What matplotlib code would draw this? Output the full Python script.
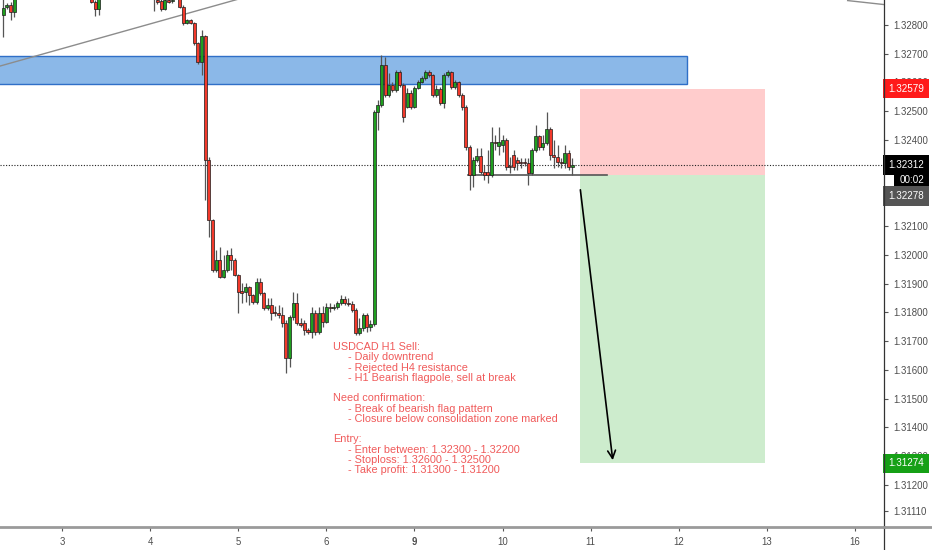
import matplotlib
matplotlib.use("Agg")
import matplotlib.pyplot as plt
from matplotlib.patches import Rectangle
from matplotlib.lines import Line2D

# USDCAD H1 candles, x = hours from day "3" 00:00 (weekend skipped)
hours = [-16, -15, -14, -13, 8, 9, 10, 25, 26, 27, 28, 29, 30] + list(range(32, 140))

opens = [1.32835, 1.32863, 1.32870, 1.32845, 1.32904, 1.32880, 1.32856,
         1.32897, 1.32887, 1.32884, 1.32856, 1.32887, 1.32884,
         1.32894, 1.32863, 1.32807, 1.32817, 1.32807, 1.32737, 1.32671, 1.32762,
         1.32330, 1.32121, 1.31947, 1.31982, 1.31923, 1.31947, 1.32000, 1.31982,
         1.31930, 1.31874, 1.31871, 1.31888, 1.31860, 1.31836, 1.31906, 1.31867,
         1.31815, 1.31826, 1.31801, 1.31798, 1.31791, 1.31763, 1.31641, 1.31784,
         1.31833, 1.31763, 1.31763, 1.31739, 1.31732, 1.31798, 1.31732, 1.31798,
         1.31766, 1.31819, 1.31815, 1.31819, 1.31833, 1.31846, 1.31833, 1.31829,
         1.31808, 1.31728, 1.31746, 1.31791, 1.31749, 1.31759, 1.32497, 1.32522,
         1.32661, 1.32556, 1.32591, 1.32574, 1.32636, 1.32591, 1.32515, 1.32563,
         1.32515, 1.32581, 1.32602, 1.32616, 1.32636, 1.32626, 1.32556, 1.32577,
         1.32529, 1.32626, 1.32636, 1.32584, 1.32602, 1.32556, 1.32515, 1.32375,
         1.32278, 1.32330, 1.32344, 1.32288, 1.32288, 1.32278, 1.32393, 1.32379,
         1.32382, 1.32400, 1.32309, 1.32348, 1.32330, 1.32323, 1.32323, 1.32320,
         1.32285, 1.32365, 1.32414, 1.32375, 1.32389, 1.32438, 1.32348, 1.32341,
         1.32323, 1.32320, 1.32355, 1.32306]
highs = [1.32904, 1.32877, 1.32880, 1.32915, 1.32922, 1.32887, 1.32915,
         1.32915, 1.32897, 1.32890, 1.32897, 1.32897, 1.32894,
         1.32901, 1.32870, 1.32821, 1.32821, 1.32810, 1.32741, 1.32783, 1.32765,
         1.32341, 1.32125, 1.32017, 1.32027, 1.32000, 1.32017, 1.32024, 1.31989,
         1.31933, 1.31902, 1.31902, 1.31892, 1.31864, 1.31920, 1.31920, 1.31871,
         1.31850, 1.31850, 1.31822, 1.31826, 1.31819, 1.31773, 1.31791, 1.31871,
         1.31867, 1.31780, 1.31773, 1.31746, 1.31819, 1.31808, 1.31819, 1.31822,
         1.31833, 1.31833, 1.31829, 1.31840, 1.31860, 1.31857, 1.31850, 1.31840,
         1.31815, 1.31780, 1.31798, 1.31798, 1.31773, 1.32504, 1.32539, 1.32696,
         1.32689, 1.32633, 1.32602, 1.32643, 1.32643, 1.32598, 1.32581, 1.32574,
         1.32588, 1.32609, 1.32622, 1.32643, 1.32643, 1.32629, 1.32591, 1.32584,
         1.32633, 1.32643, 1.32640, 1.32609, 1.32605, 1.32563, 1.32522, 1.32382,
         1.32341, 1.32372, 1.32372, 1.32313, 1.32365, 1.32445, 1.32417, 1.32445,
         1.32417, 1.32407, 1.32341, 1.32365, 1.32341, 1.32337, 1.32337, 1.32337,
         1.32372, 1.32452, 1.32417, 1.32417, 1.32497, 1.32445, 1.32400, 1.32382,
         1.32337, 1.32382, 1.32365, 1.32337]
lows = [1.32758, 1.32856, 1.32817, 1.32828, 1.32877, 1.32831, 1.32835,
        1.32849, 1.32873, 1.32849, 1.32852, 1.32877, 1.32877,
        1.32859, 1.32800, 1.32803, 1.32803, 1.32730, 1.32664, 1.32626, 1.32191,
        1.32062, 1.31940, 1.31940, 1.31920, 1.31920, 1.31940, 1.31947, 1.31927,
        1.31798, 1.31833, 1.31836, 1.31826, 1.31829, 1.31829, 1.31860, 1.31808,
        1.31808, 1.31773, 1.31787, 1.31780, 1.31749, 1.31589, 1.31610, 1.31773,
        1.31756, 1.31749, 1.31721, 1.31725, 1.31711, 1.31721, 1.31725, 1.31749,
        1.31763, 1.31801, 1.31808, 1.31812, 1.31826, 1.31826, 1.31822, 1.31801,
        1.31721, 1.31721, 1.31735, 1.31732, 1.31735, 1.31753, 1.32435, 1.32515,
        1.32549, 1.32549, 1.32567, 1.32567, 1.32584, 1.32462, 1.32511, 1.32508,
        1.32511, 1.32577, 1.32598, 1.32609, 1.32619, 1.32549, 1.32549, 1.32522,
        1.32511, 1.32619, 1.32577, 1.32577, 1.32549, 1.32504, 1.32365, 1.32226,
        1.32236, 1.32323, 1.32281, 1.32261, 1.32250, 1.32271, 1.32365, 1.32348,
        1.32358, 1.32295, 1.32285, 1.32295, 1.32295, 1.32302, 1.32309, 1.32243,
        1.32278, 1.32358, 1.32365, 1.32365, 1.32382, 1.32330, 1.32302, 1.32306,
        1.32302, 1.32302, 1.32295, 1.32278]
closes = [1.32859, 1.32870, 1.32845, 1.32897, 1.32880, 1.32856, 1.32897,
          1.32890, 1.32880, 1.32856, 1.32887, 1.32880, 1.32887,
          1.32863, 1.32807, 1.32817, 1.32807, 1.32737, 1.32671, 1.32762, 1.32330,
          1.32121, 1.31947, 1.31982, 1.31923, 1.31947, 1.32000, 1.31982, 1.31930,
          1.31871, 1.31867, 1.31888, 1.31860, 1.31836, 1.31906, 1.31867, 1.31815,
          1.31826, 1.31798, 1.31798, 1.31791, 1.31763, 1.31641, 1.31784, 1.31833,
          1.31763, 1.31756, 1.31739, 1.31732, 1.31798, 1.31732, 1.31798, 1.31766,
          1.31819, 1.31815, 1.31819, 1.31833, 1.31846, 1.31833, 1.31829, 1.31808,
          1.31728, 1.31746, 1.31791, 1.31749, 1.31759, 1.32497, 1.32522, 1.32661,
          1.32556, 1.32591, 1.32574, 1.32636, 1.32591, 1.32480, 1.32563, 1.32515,
          1.32581, 1.32602, 1.32616, 1.32636, 1.32626, 1.32556, 1.32577, 1.32529,
          1.32626, 1.32636, 1.32584, 1.32602, 1.32556, 1.32515, 1.32375, 1.32278,
          1.32330, 1.32344, 1.32288, 1.32278, 1.32278, 1.32393, 1.32389, 1.32393,
          1.32400, 1.32306, 1.32306, 1.32306, 1.32320, 1.32320, 1.32320, 1.32285,
          1.32365, 1.32414, 1.32375, 1.32389, 1.32438, 1.32348, 1.32341, 1.32323,
          1.32320, 1.32355, 1.32306, 1.32312]

day_ticks = [0, 24, 48, 72, 96, 120, 144, 168, 192, 216]
day_labels = ['3', '4', '5', '6', '9', '10', '11', '12', '13', '16']
# 1.32300 and 1.32200 sit under the price tags, so they are left out
price_ticks = [1.328, 1.327, 1.326, 1.325, 1.324, 1.321, 1.320,
               1.319, 1.318, 1.317, 1.316, 1.315, 1.314, 1.313, 1.312, 1.3111]

# drawings
zone_low, zone_high, zone_end = 1.32595, 1.32692, 170.3
trend_x, trend_y = [-20, 60], [1.32646, 1.32933]
trend2_x, trend2_y = [214, 224], [1.32885, 1.32871]
flag_low, flag_start, flag_end = 1.32278, 110.6, 148.5
entry, stop, target = 1.32278, 1.32579, 1.31274
pos_start, pos_end = 141.1, 191.5
arrow_from, arrow_to = (141.1, 1.32236), (150.1, 1.31276)
last_price = closes[-1]

note = ("USDCAD H1 Sell:\n"
        "     - Daily downtrend\n"
        "     - Rejected H4 resistance\n"
        "     - H1 Bearish flagpole, sell at break\n"
        "\n"
        "Need confirmation:\n"
        "     - Break of bearish flag pattern\n"
        "     - Closure below consolidation zone marked\n"
        "\n"
        "Entry:\n"
        "     - Enter between: 1.32300 - 1.32200\n"
        "     - Stoploss: 1.32600 - 1.32500\n"
        "     - Take profit: 1.31300 - 1.31200")

plt.rcParams['font.family'] = ['Liberation Sans', 'DejaVu Sans']

fig = plt.figure(figsize=(9.32, 5.5), dpi=100)
ax = fig.add_axes([0, 23 / 550, 884 / 932, 527 / 550])

ax.add_patch(Rectangle((-20, zone_low), zone_end + 20, zone_high - zone_low,
                       facecolor='#8bb8e8', edgecolor='#2f6fc7', lw=1, zorder=1))
ax.plot(trend_x, trend_y, color='#8c8c8c', lw=1, zorder=1.5)
ax.plot(trend2_x, trend2_y, color='#8c8c8c', lw=1, zorder=1.5)

# short position tool
ax.add_patch(Rectangle((pos_start, entry), pos_end - pos_start, stop - entry,
                       facecolor='#ffcccc', edgecolor='none', zorder=0.5))
ax.add_patch(Rectangle((pos_start, target), pos_end - pos_start, entry - target,
                       facecolor='#cdeccd', edgecolor='none', zorder=0.5))

ax.axhline(last_price, color='#222222', lw=0.8, ls=(0, (1, 1.5)), zorder=1.6)
ax.plot([flag_start, flag_end], [flag_low, flag_low], color='#555555', lw=1.2, zorder=1.7)

# candles
up = [c >= o for o, c in zip(opens, closes)]
colors = ['#1f9f1f' if u else '#f2392b' for u in up]
ax.vlines(hours, lows, highs, color='#555555', lw=0.9, zorder=2)
bottoms = [min(o, c) for o, c in zip(opens, closes)]
heights = [max(abs(c - o), 0.000015) for o, c in zip(opens, closes)]
ax.bar(hours, heights, bottom=bottoms, width=0.82, color=colors,
       edgecolor='#1c1c1c', lw=0.5, zorder=3)

ax.annotate('', xy=arrow_to, xytext=arrow_from,
            arrowprops=dict(arrowstyle='->', color='black', lw=1.2, mutation_scale=14),
            zorder=4)

ax.text(73.8, 1.31696, note, color='#f05a5a', fontsize=7.8, va='top', ha='left',
        linespacing=1.03, zorder=4)

ax.set_xlim(-16.9, 223.9)
ax.set_ylim(1.31053, 1.32887)

ax.set_xticks(day_ticks)
ax.set_xticklabels(day_labels)
for lab in ax.get_xticklabels():
    if lab.get_text() == '9':
        lab.set_fontweight('bold')
ax.yaxis.tick_right()
ax.set_yticks(price_ticks)
ax.set_yticklabels(['%.5f' % p for p in price_ticks])
ax.tick_params(axis='y', colors='#555555', labelsize=6.9, length=3, pad=4, width=0.8)
ax.tick_params(axis='x', colors='#555555', labelsize=6.9, length=3, pad=4, width=0.8)
for lab in ax.get_yticklabels() + ax.get_xticklabels():
    lab.set_color('#4d4d4d')

for s in ['left', 'top', 'right']:
    ax.spines[s].set_visible(False)
ax.spines['bottom'].set_color('#9a9a9a')
ax.spines['bottom'].set_linewidth(2)
fig.add_artist(Line2D([884 / 932, 884 / 932], [0, 1], color='#333333', lw=0.9))
fig.add_artist(Line2D([884 / 932, 1], [23 / 550, 23 / 550], color='#9a9a9a', lw=2))

# price tags on the axis
def tag(price, text, fc, dy=0, dx=3):
    ax.annotate(text, xy=(1, price), xycoords=('axes fraction', 'data'),
                xytext=(dx, dy), textcoords='offset points', va='center', ha='left',
                color='white', fontsize=7.1, annotation_clip=False, zorder=10,
                bbox=dict(boxstyle='square,pad=0.5', fc=fc, ec='none'))

tag(stop, '%.5f' % stop, '#ff1a1a')
tag(last_price, '%.5f' % last_price, '#000000')
tag(last_price, '00:02', '#000000', dy=-10.5, dx=11)
tag(entry, '%.5f' % entry, '#555555', dy=-15)
tag(target, '%.5f' % target, '#16a016')

fig.savefig('out.png', dpi=100, facecolor='white')
